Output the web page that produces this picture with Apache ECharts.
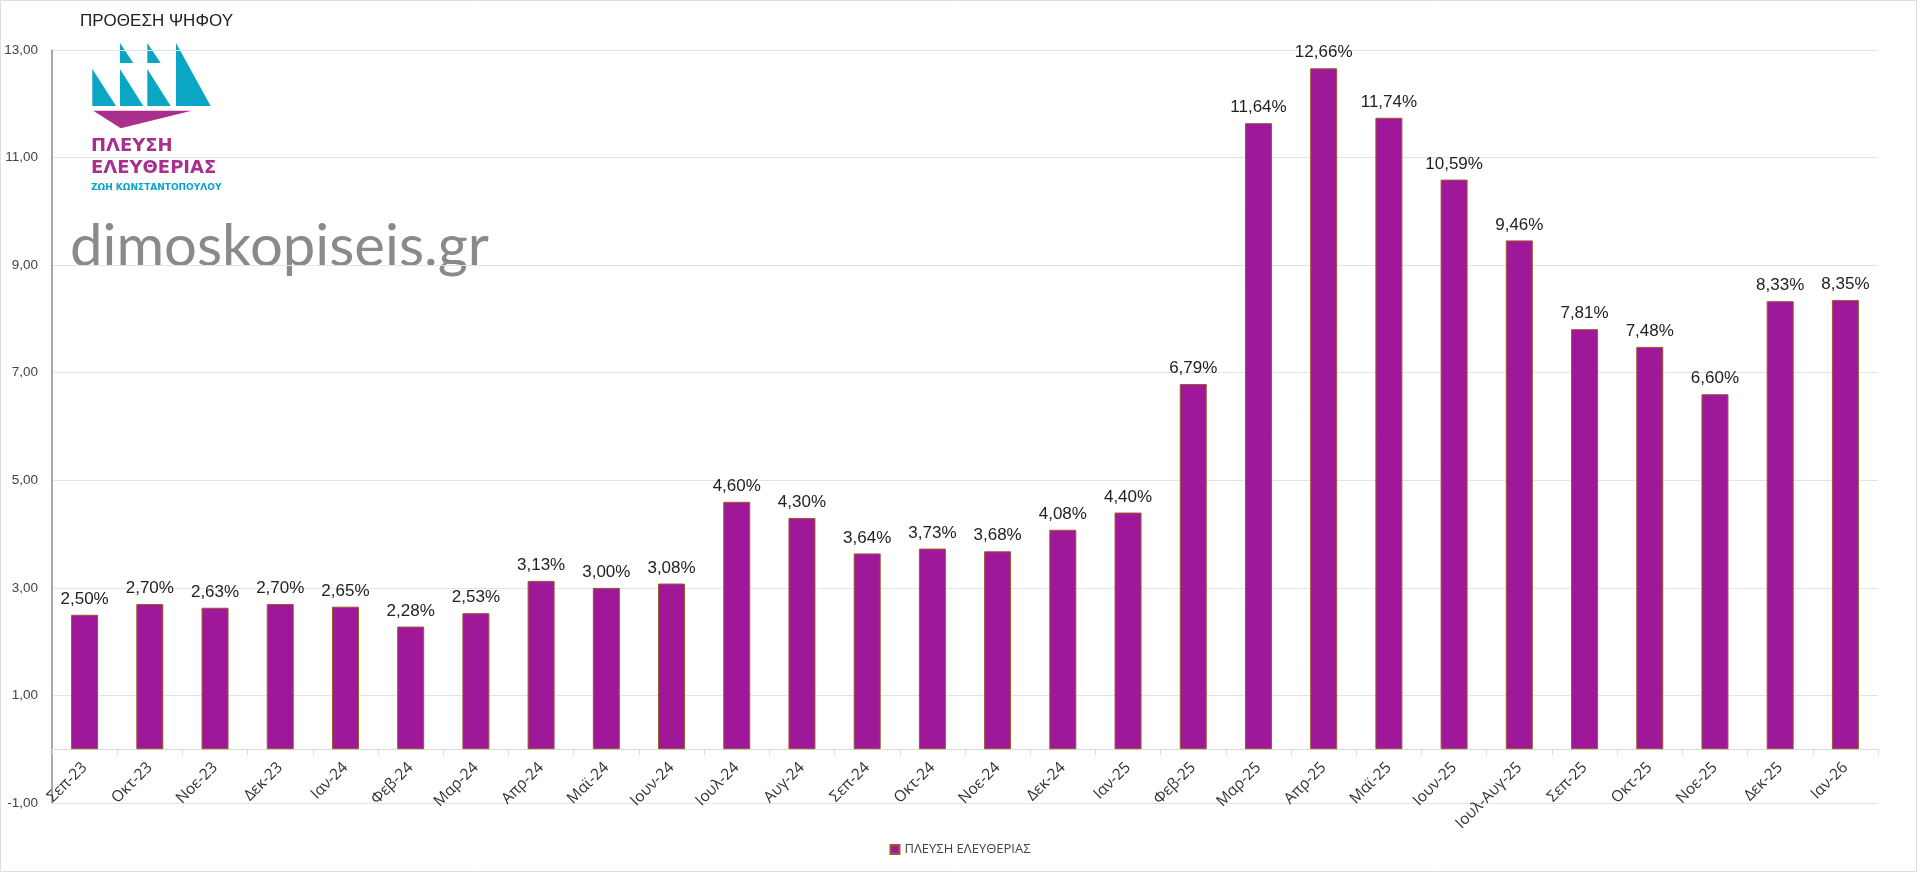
<!DOCTYPE html>
<html>
<head>
<meta charset="utf-8">
<style>html,body{margin:0;padding:0;background:#fff}#c{width:1920px;height:873px}</style>
<script src="https://cdn.jsdelivr.net/npm/echarts@6/dist/echarts.min.js"></script>
</head>
<body>
<div id="c"></div>
<script>
const categories = ['Σεπ-23','Οκτ-23','Νοε-23','Δεκ-23','Ιαν-24','Φεβ-24','Μαρ-24','Απρ-24','Μαϊ-24','Ιουν-24','Ιουλ-24','Αυγ-24','Σεπ-24','Οκτ-24','Νοε-24','Δεκ-24','Ιαν-25','Φεβ-25','Μαρ-25','Απρ-25','Μαϊ-25','Ιουν-25','Ιουλ-Αυγ-25','Σεπ-25','Οκτ-25','Νοε-25','Δεκ-25','Ιαν-26'];
const values = [2.50,2.70,2.63,2.70,2.65,2.28,2.53,3.13,3.00,3.08,4.60,4.30,3.64,3.73,3.68,4.08,4.40,6.79,11.64,12.66,11.74,10.59,9.46,7.81,7.48,6.60,8.33,8.35];
const seriesName = 'ΠΛΕΥΣΗ ΕΛΕΥΘΕΡΙΑΣ';
const titleText = 'ΠΡΟΘΕΣΗ ΨΗΦΟΥ';
const watermark = 'dimoskopiseis.gr';

const chart = echarts.init(document.getElementById('c'));
const cyan = '#0AA6C4', mag = '#A8308C';
chart.setOption({
  backgroundColor: '#fff',
  animation: false,
  grid: {left: 52, right: 42, top: 50, bottom: 70, containLabel: false},
  legend: {
    bottom: 12, left: 'center', itemWidth: 9, itemHeight: 9, itemGap: 6,
    textStyle: {fontFamily: 'Open Sans', fontSize: 13, color: '#444'},
    data: [{name: seriesName, icon: 'rect'}]
  },
  xAxis: {
    type: 'category', data: categories, offset: -54,
    axisLine: {onZero: false, lineStyle: {color: '#d9d9d9', width: 1}},
    axisTick: {show: true, length: 6, lineStyle: {color: '#d9d9d9'}},
    axisLabel: {rotate: 45, margin: 16, fontFamily: 'Open Sans', fontSize: 15.5, color: '#333', interval: 0}
  },
  yAxis: {
    type: 'value', min: -1, max: 13, interval: 2,
    axisLine: {show: true, onZero: false, lineStyle: {color: '#7f8da0', width: 1.5}},
    axisTick: {show: false},
    splitLine: {lineStyle: {color: '#e3e3e3', width: 1.2}},
    axisLabel: {margin: 14, fontFamily: 'Liberation Sans', fontSize: 13.5, color: '#444',
      formatter: v => v.toFixed(2).replace('.', ',')}
  },
  series: [{
    name: seriesName, type: 'bar', data: values, barWidth: 27,
    itemStyle: {color: '#A0189A', borderColor: '#9a5a2a', borderWidth: 1},
    label: {show: true, position: 'top', distance: 7, fontFamily: 'Liberation Sans', fontSize: 17, color: '#222',
      formatter: p => p.value.toFixed(2).replace('.', ',') + '%'}
  }],
  graphic: [
    {type: 'rect', shape: {x: 0.5, y: 0.5, width: 1916, height: 871}, style: {fill: 'none', stroke: '#dedede', lineWidth: 1}, silent: true, z: 0},
    {type: 'text', left: 80, top: 13, style: {text: titleText, fontFamily: 'Liberation Sans', fontSize: 17, fill: '#222'}},
    {type: 'polygon', shape: {points: [[92.3,69],[92.3,106],[116,106]]}, style: {fill: cyan}},
    {type: 'polygon', shape: {points: [[120,43],[120,63],[133.3,63]]}, style: {fill: cyan}},
    {type: 'polygon', shape: {points: [[120,69],[120,106],[143.3,106]]}, style: {fill: cyan}},
    {type: 'polygon', shape: {points: [[147.3,43],[147.3,63],[160.7,63]]}, style: {fill: cyan}},
    {type: 'polygon', shape: {points: [[147.3,69],[147.3,106],[170.7,106]]}, style: {fill: cyan}},
    {type: 'polygon', shape: {points: [[176,43],[176,106],[210.7,106]]}, style: {fill: cyan}},
    {type: 'polygon', shape: {points: [[93.3,110.7],[191.7,110.7],[120.7,128.3]]}, style: {fill: mag}},
    {type: 'text', left: 91, top: 137, style: {text: 'ΠΛΕΥΣΗ', fontFamily: 'DejaVu Sans', fontWeight: 'bold', fontSize: 18, fill: mag}},
    {type: 'text', left: 91, top: 159, style: {text: 'ΕΛΕΥΘΕΡΙΑΣ', fontFamily: 'DejaVu Sans', fontWeight: 'bold', fontSize: 18, fill: mag}},
    {type: 'text', left: 91, top: 183, style: {text: 'ΖΩΗ ΚΩΝΣΤΑΝΤΟΠΟΥΛΟΥ', fontFamily: 'DejaVu Sans', fontWeight: 'bold', fontSize: 9, fill: cyan}},
    {type: 'text', left: 70, top: 218, style: {text: watermark, fontFamily: 'Lato', fontWeight: 'normal', fontSize: 58, fill: '#8a8a8a'}}
  ]
});
</script>
</body>
</html>
